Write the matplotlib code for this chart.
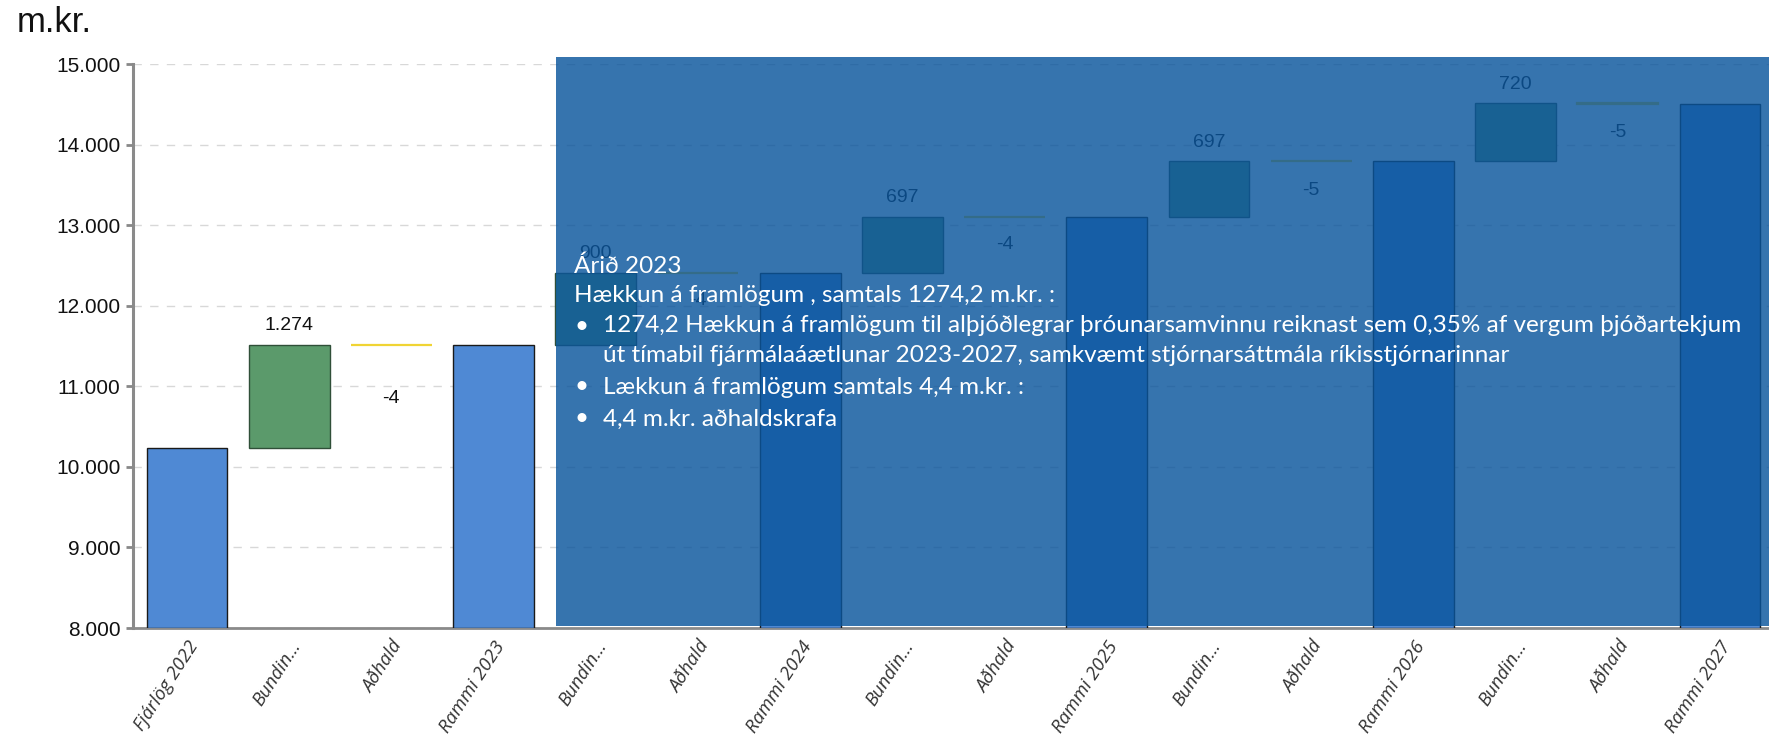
import matplotlib
matplotlib.use("Agg")
import matplotlib.pyplot as plt
from matplotlib.patches import Rectangle
from matplotlib.ticker import FixedLocator

# ---------------- data ----------------
categories = ["Fjárlög 2022", "Bundin...", "Aðhald", "Rammi 2023",
              "Bundin...", "Aðhald", "Rammi 2024",
              "Bundin...", "Aðhald", "Rammi 2025",
              "Bundin...", "Aðhald", "Rammi 2026",
              "Bundin...", "Aðhald", "Rammi 2027"]
totals = [10240, 11510, 12406, 13099, 13791, 14506]      # Fjárlög 2022, Rammi 2023..2027
increases = [1274, 900, 697, 697, 720]                   # Bundin...
decreases = [-4, -4, -4, -5, -5]                          # Aðhald
inc_labels = ["1.274", "900", "697", "697", "720"]
dec_labels = ["-4", "-4", "-4", "-5", "-5"]
yticks = [8000, 9000, 10000, 11000, 12000, 13000, 14000, 15000]
ytick_labels = ["8.000", "9.000", "10.000", "11.000", "12.000", "13.000", "14.000", "15.000"]

overlay_lines = [
    "Árið 2023",
    "Hækkun á framlögum , samtals 1274,2 m.kr. :",
    "1274,2 Hækkun á framlögum til alþjóðlegrar þróunarsamvinnu reiknast sem 0,35% af vergum þjóðartekjum",
    "út tímabil fjármálaáætlunar 2023-2027, samkvæmt stjórnarsáttmála ríkisstjórnarinnar",
    "Lækkun á framlögum samtals 4,4 m.kr. :",
    "4,4 m.kr. aðhaldskrafa",
]
overlay_bullets = [False, False, True, False, True, True]
overlay_indent = [False, False, True, True, True, True]

# ---------------- figure ----------------
W, H = 1769, 747
fig = plt.figure(figsize=(W / 100, H / 100), dpi=100)
ax_left, ax_bottom, ax_top = 133, 628, 64
ax = fig.add_axes([ax_left / W, 1 - ax_bottom / H, 1 - ax_left / W, (ax_bottom - ax_top) / H])

blue = "#4f89d4"
green = "#5b9a6b"
yellow = "#f0d434"
bw = 0.79

ax.set_ylim(8000, 15000)
ax.set_xlim(-0.528, 15.48)

# label offsets (styling, in data units)
dec_offsets = [560, 240, 240, 260, 260]

tot_pos = [0, 3, 6, 9, 12, 15]
for p, v in zip(tot_pos, totals):
    ax.bar(p, v - 8000, bottom=8000, width=bw, color=blue, edgecolor="#1a1a1a", linewidth=1.0, zorder=3)

for i in range(5):
    base = totals[i]
    pi = 1 + 3 * i
    pd = 2 + 3 * i
    ax.bar(pi, increases[i], bottom=base, width=bw, color=green, edgecolor="#2f4f38", linewidth=1.0, zorder=3)
    ax.text(pi, base + increases[i] + 130, inc_labels[i], ha="center", va="bottom",
            fontsize=14, family="Liberation Sans", color="#111111", zorder=4)
    top = base + increases[i]
    ax.bar(pd, decreases[i], bottom=top, width=bw, color=yellow, edgecolor=yellow, linewidth=1.6, zorder=3)
    ax.text(pd, top - dec_offsets[i], dec_labels[i], ha="center", va="top",
            fontsize=14, family="Liberation Sans", color="#111111", zorder=4)

# axes styling
ax.yaxis.set_major_locator(FixedLocator(yticks))
ax.set_yticklabels(ytick_labels, fontsize=15, family="Liberation Sans", color="#111111")
ax.set_xticks(range(len(categories)))
ax.set_xticklabels(categories, rotation=57, ha="right", rotation_mode="anchor",
                   fontsize=13.5, family="Open Sans", style="italic", color="#333333")
ax.tick_params(axis="x", length=0, pad=7)
ax.tick_params(axis="y", length=5, width=2, color="#888888", pad=4)
ax.grid(axis="y", color="#d8d8d8", linestyle=(0, (6, 6)), linewidth=1.0, zorder=0)
for s in ["top", "right"]:
    ax.spines[s].set_visible(False)
ax.spines["left"].set_color("#8a8a8a")
ax.spines["left"].set_linewidth(2.2)
ax.spines["bottom"].set_color("#8a8a8a")
ax.spines["bottom"].set_linewidth(2.0)
ax.set_axisbelow(True)

fig.text(17 / W, 1 - 22 / H, "m.kr.", fontsize=25, family="Liberation Sans", va="center", ha="left", color="#111111")

# overlay box
ox0, oy0, oy1 = 556, 57, 626
overlay = Rectangle((ox0 / W, 1 - oy1 / H), (W - ox0) / W, (oy1 - oy0) / H,
                    transform=fig.transFigure, facecolor=(10 / 255, 85 / 255, 156 / 255),
                    alpha=0.82, edgecolor="none", zorder=10)
fig.add_artist(overlay)

line_y = [266, 295, 326, 356, 387, 419]
x_head, x_bullet, x_text = 574, 574, 603

# fit font size so the long line matches width in reference (~1143 px)
fs = 16.0
probe = fig.text(0, 0, overlay_lines[2], fontsize=fs, family="Lato")
fig.canvas.draw()
wpx = probe.get_window_extent().width
probe.remove()
fs = fs * 1143 / wpx

for txt, b, ind, y in zip(overlay_lines, overlay_bullets, overlay_indent, line_y):
    x = x_text if ind else x_head
    fig.text(x / W, 1 - y / H, txt, fontsize=fs, family="Lato", color="white",
             va="center", ha="left", zorder=11)
    if b:
        fig.text(x_bullet / W, 1 - y / H, "•", fontsize=fs, family="Lato", color="white",
                 va="center", ha="left", zorder=11)

fig.savefig("out.png", dpi=100)
